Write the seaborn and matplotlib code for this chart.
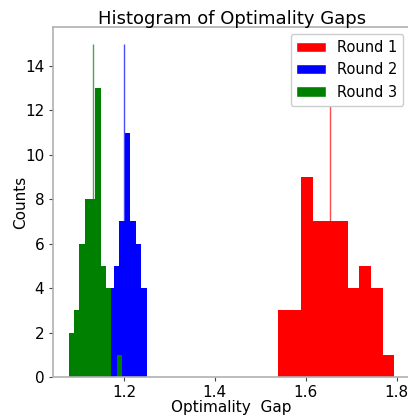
import numpy as np
import pandas as pd
import matplotlib
matplotlib.use('Agg')
import matplotlib.pyplot as plt
import seaborn as sns
from matplotlib.patches import Patch

# histogram data (10 bins per round, 50 samples each)
labels = ['Round 1', 'Round 2', 'Round 3']
colors = ['red', 'blue', 'green']

edges_r1 = np.linspace(1.539, 1.795, 11)
counts_r1 = [3, 3, 9, 7, 7, 7, 4, 5, 4, 1]

edges_r2 = np.linspace(1.130, 1.2505, 11)
counts_r2 = [5, 0, 1, 4, 5, 7, 11, 7, 6, 4]

edges_r3 = np.linspace(1.079, 1.1955, 11)
counts_r3 = [2, 3, 6, 8, 8, 13, 5, 4, 0, 1]

means = [1.653, 1.200, 1.132]
line_top = 15

sns.set_style('white')
plt.rcParams['font.family'] = ['DejaVu Sans']
plt.rcParams['text.color'] = 'black'
plt.rcParams['axes.labelcolor'] = 'black'
plt.rcParams['xtick.color'] = 'black'
plt.rcParams['ytick.color'] = 'black'

fig = plt.figure(figsize=(4.08, 4.15), dpi=100)
ax = fig.add_axes([0.1287, 0.0916, 0.878, 0.8434])

all_edges = [edges_r1, edges_r2, edges_r3]
all_counts = [counts_r1, counts_r2, counts_r3]

for edges, counts, c, m in zip(all_edges, all_counts, colors, means):
    df = pd.DataFrame({'gap': (edges[:-1] + edges[1:]) / 2, 'n': counts})
    sns.histplot(data=df, x='gap', weights='n', bins=list(edges), color=c,
                 alpha=1, linewidth=0, ax=ax)
    ax.vlines(m, 0, line_top, color=c, linewidth=1, alpha=0.7)

ax.set_xlim(1.043, 1.831)
ax.set_ylim(0, 15.75)
ax.set_xticks([1.2, 1.4, 1.6, 1.8])
ax.set_yticks(range(0, 15, 2))
ax.tick_params(axis='both', labelsize=11, length=3, width=0.8, pad=3,
               color='#444444', bottom=True, left=True)

for s in ax.spines.values():
    s.set_color('#b0b0b0')
    s.set_linewidth(1.2)

ax.set_title('Histogram of Optimality Gaps', fontsize=13, pad=2)
ax.set_xlabel('Optimality  Gap', fontsize=11, labelpad=0)
ax.set_ylabel('Counts', fontsize=11, labelpad=-2)

handles = [Patch(facecolor=c, label=l) for c, l in zip(colors, labels)]
ax.legend(handles=handles, loc='upper right', fontsize=10.5, framealpha=1)

fig.savefig('out.png', dpi=100)
